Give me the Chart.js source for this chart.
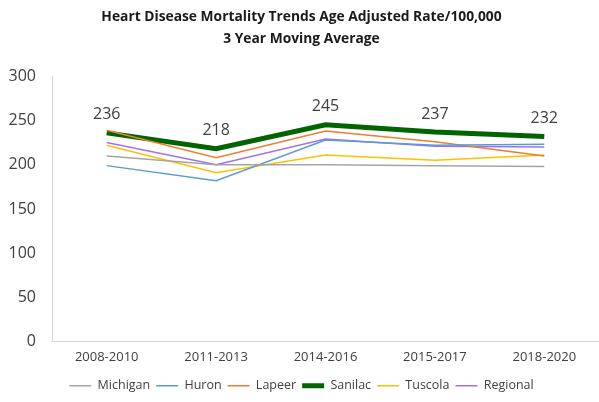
<!DOCTYPE html>
<html>
<head>
<meta charset="utf-8">
<script src="https://cdn.jsdelivr.net/npm/chart.js@4"></script>
<style>
  html, body { margin: 0; padding: 0; background: #fff; }
  #wrap { width: 599px; height: 402px; }
</style>
</head>
<body>
<div id="wrap"><canvas id="heartChart"></canvas></div>
<script>
// --- Dữ liệu ---
const periods = ["2008-2010", "2011-2013", "2014-2016", "2015-2017", "2018-2020"];
const michigan = [210, 200, 200, 199, 198];
const huron = [199, 182, 228, 222, 223];
const lapeer = [239, 208, 238, 226, 210];
const sanilac = [236, 218, 245, 237, 232];
const tuscola = [222, 191, 211, 205, 211];
const regional = [225, 200, 229, 221, 220];
const yTicks = [0, 50, 100, 150, 200, 250, 300];

const FONT = "Open Sans";

// --- Plugin vẽ nhãn giá trị cho Sanilac ---
const valueLabels = {
  id: "valueLabels",
  afterDatasetsDraw(chart) {
    const ctx = chart.ctx;
    const idx = chart.data.datasets.findIndex(d => d.label === "Sanilac");
    const meta = chart.getDatasetMeta(idx);
    ctx.save();
    ctx.font = "16px '" + FONT + "'";
    ctx.fillStyle = "#404040";
    ctx.textAlign = "center";
    ctx.textBaseline = "middle";
    meta.data.forEach((pt, i) => {
      ctx.fillText(String(sanilac[i]), pt.x, pt.y - 18);
    });
    ctx.restore();
  }
};

function line(label, data, color, width) {
  return {
    label: label,
    data: data,
    borderColor: color,
    backgroundColor: color,
    borderWidth: width,
    pointRadius: 0,
    pointHoverRadius: 0,
    tension: 0,
    fill: false
  };
}

new Chart(document.getElementById("heartChart").getContext("2d"), {
  type: "line",
  data: {
    labels: periods,
    datasets: [
      line("Michigan", michigan, "#a5a5a5", 1.5),
      line("Huron", huron, "#5b9bd5", 1.5),
      line("Lapeer", lapeer, "#ed7d31", 1.5),
      line("Sanilac", sanilac, "#006400", 5),
      line("Tuscola", tuscola, "#ffc000", 1.5),
      line("Regional", regional, "#9f6ff5", 1.5)
    ]
  },
  options: {
    responsive: true,
    maintainAspectRatio: false,
    animation: false,
    layout: { padding: { left: 4, right: 0, top: 6, bottom: 0 } },
    plugins: {
      title: {
        display: true,
        text: ["Heart Disease Mortality Trends Age Adjusted Rate/100,000", "3 Year Moving Average"],
        color: "#1a1a1a",
        font: { family: FONT, size: 13.8, weight: "bold", lineHeight: 1.6 },
        padding: { top: 0, bottom: 26 }
      },
      legend: {
        position: "bottom",
        labels: {
          usePointStyle: true,
          pointStyle: "line",
          pointStyleWidth: 22,
          boxWidth: 22,
          padding: 6,
          color: "#404040",
          font: { family: FONT, size: 12.5 }
        }
      },
      tooltip: { enabled: false }
    },
    scales: {
      x: {
        offset: true,
        grid: { display: false, drawTicks: false },
        border: { display: true, color: "#d9d9d9", width: 1 },
        ticks: {
          color: "#404040",
          padding: 8,
          font: { family: FONT, size: 13 }
        }
      },
      y: {
        min: 0,
        max: 300,
        afterBuildTicks: axis => { axis.ticks = yTicks.map(v => ({ value: v })); },
        afterFit: axis => { axis.width = 48; },
        grid: { display: false, drawTicks: false },
        border: { display: true, color: "#d9d9d9", width: 1 },
        ticks: {
          color: "#404040",
          padding: 16,
          font: { family: FONT, size: 16 }
        }
      }
    }
  },
  plugins: [valueLabels]
});
</script>
</body>
</html>
